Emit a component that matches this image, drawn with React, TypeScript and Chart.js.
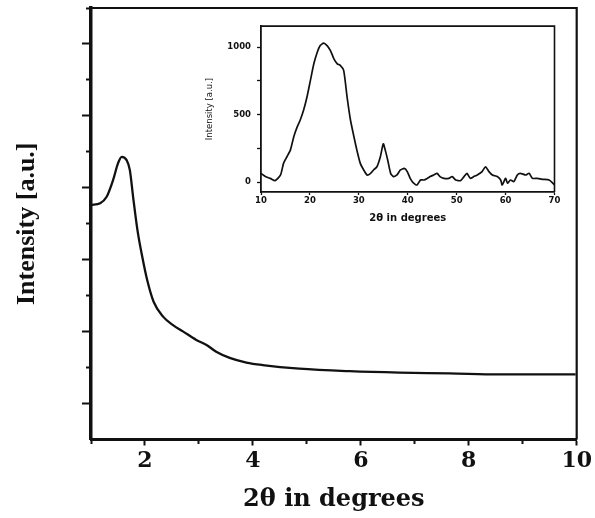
import React, { useEffect, useRef } from "react";
import { Chart, registerables } from "chart.js";

Chart.register(...registerables);

// Main small-angle pattern (2θ in degrees vs intensity, arbitrary units)
const mainTheta = [1.0, 1.17, 1.29, 1.41, 1.5, 1.57, 1.66, 1.72, 1.78, 1.86, 1.95, 2.04, 2.16, 2.34, 2.52, 2.71, 2.95, 3.14, 3.32, 3.57, 3.88, 4.18, 4.86, 5.79, 6.71, 7.64, 8.56, 9.98];
const mainIntensity = [6.52, 6.57, 6.75, 7.22, 7.68, 7.86, 7.77, 7.49, 6.75, 5.83, 5.08, 4.44, 3.83, 3.41, 3.18, 3.0, 2.77, 2.63, 2.44, 2.27, 2.14, 2.07, 1.97, 1.9, 1.86, 1.84, 1.81, 1.81];
const mainXTicks = [1, 2, 3, 4, 5, 6, 7, 8, 9, 10];
const mainXLabels = ["", "2", "", "4", "", "6", "", "8", "", "10"];
const mainYTicks = [1, 2, 3, 4, 5, 6, 7, 8, 9, 10, 11, 12];

// Inset wide-angle pattern
const insetTheta = [10, 10.9, 11.9, 12.9, 14.0, 14.6, 15.3, 16.0, 16.7, 17.4, 18.0, 18.7, 19.4, 20.1, 20.8, 21.5, 22.1, 22.8, 23.5, 24.2, 24.9, 25.6, 26.2, 26.9, 27.6, 28.3, 29.0, 29.6, 30.3, 31.0, 31.7, 32.4, 33.0, 33.7, 34.4, 35.0, 35.4, 35.9, 36.5, 37.1, 37.8, 38.5, 39.3, 39.9, 40.5, 41.2, 41.9, 42.6, 43.3, 44.0, 44.6, 45.3, 46.0, 46.6, 47.4, 48.4, 49.1, 49.8, 50.8, 51.5, 52.1, 52.8, 53.5, 54.2, 55.2, 55.9, 56.6, 57.3, 58.3, 59.0, 59.3, 60.0, 60.4, 61.0, 61.7, 62.4, 63.0, 64.1, 64.8, 65.5, 66.5, 67.5, 68.9, 70];
const insetIntensity = [66, 42, 29, 12, 54, 140, 189, 238, 337, 410, 459, 533, 631, 754, 877, 963, 1012, 1030, 1012, 975, 914, 877, 865, 828, 631, 459, 337, 238, 140, 91, 54, 66, 91, 115, 189, 285, 238, 165, 66, 42, 54, 91, 103, 79, 29, -7, -20, 17, 17, 29, 42, 54, 66, 42, 29, 29, 42, 17, 12, 42, 66, 29, 42, 54, 79, 115, 79, 54, 42, 17, -20, 29, -7, 17, 5, 54, 66, 54, 66, 29, 29, 22, 17, -20];
const insetXTicks = [10, 20, 30, 40, 50, 60, 70];
const insetYTicks = [0, 250, 500, 750, 1000];
const insetYLabels = ["0", "", "500", "", "1000"];

const INK = "#111111";

const framePlugin = (width: number) => ({
  id: "frame",
  afterDraw(chart: any) {
    const { ctx, chartArea } = chart;
    ctx.save();
    ctx.strokeStyle = INK;
    ctx.lineWidth = width;
    ctx.beginPath();
    ctx.moveTo(chartArea.left, chartArea.top);
    ctx.lineTo(chartArea.right, chartArea.top);
    ctx.lineTo(chartArea.right, chartArea.bottom);
    ctx.stroke();
    ctx.restore();
  },
});

export default function App() {
  const mainRef = useRef<HTMLCanvasElement>(null);
  const insetRef = useRef<HTMLCanvasElement>(null);

  useEffect(() => {
    const main = new Chart(mainRef.current!, {
      type: "line",
      data: {
        datasets: [
          {
            data: mainTheta.map((x, i) => ({ x, y: mainIntensity[i] })),
            borderColor: INK,
            borderWidth: 2.3,
            pointRadius: 0,
            cubicInterpolationMode: "monotone",
            fill: false,
          },
        ],
      },
      options: {
        responsive: false,
        animation: false,
        events: [],
        layout: { padding: { top: 8, right: 17, left: 0, bottom: 0 } },
        plugins: { legend: { display: false }, tooltip: { enabled: false } },
        scales: {
          x: {
            type: "linear",
            min: 1,
            max: 10,
            afterFit: (s: any) => {
              s.height = 78.5;
            },
            afterBuildTicks: (s: any) => {
              s.ticks = mainXTicks.map((v) => ({ value: v }));
            },
            grid: {
              drawOnChartArea: false,
              drawTicks: true,
              tickLength: 6,
              tickWidth: 2,
              tickColor: INK,
              tickBorderDash: (ctx: any) => (ctx.tick && ctx.tick.value % 2 === 1 ? [3, 100] : []),
            },
            border: { display: true, color: INK, width: 3 },
            ticks: {
              color: INK,
              padding: 3,
              maxRotation: 0,
              autoSkip: false,
              font: { family: "'DejaVu Serif'", size: 22, weight: "bold" },
              callback: (v: any) => mainXLabels[mainXTicks.indexOf(Number(v))] ?? "",
            },
            title: {
              display: true,
              text: "2θ in degrees",
              color: INK,
              font: { family: "'DejaVu Serif'", size: 24, weight: "bold" },
              padding: { top: 0, bottom: 4 },
            },
          },
          y: {
            type: "linear",
            min: 0,
            max: 12,
            afterFit: (s: any) => {
              s.width = 91;
            },
            afterBuildTicks: (s: any) => {
              s.ticks = mainYTicks.map((v) => ({ value: v }));
            },
            grid: {
              drawOnChartArea: false,
              drawTicks: true,
              tickLength: 9,
              tickWidth: 2,
              tickColor: INK,
              tickBorderDash: (ctx: any) => (ctx.tick && ctx.tick.value % 2 === 0 ? [0, 4, 10, 100] : []),
            },
            border: { display: true, color: INK, width: 3.5 },
            ticks: { display: false },
            title: {
              display: true,
              text: "Intensity [a.u.]",
              color: INK,
              font: { family: "'Liberation Serif'", size: 26, weight: "bold" },
              padding: { top: 12, bottom: 0 },
            },
          },
        },
      },
      plugins: [framePlugin(2.2)],
    } as any);

    const inset = new Chart(insetRef.current!, {
      type: "line",
      data: {
        datasets: [
          {
            data: insetTheta.map((x, i) => ({ x, y: insetIntensity[i] })),
            borderColor: INK,
            borderWidth: 1.7,
            pointRadius: 0,
            tension: 0.2,
            fill: false,
          },
        ],
      },
      options: {
        responsive: false,
        animation: false,
        events: [],
        layout: { padding: { top: 10.5, right: 10.5, left: 0, bottom: 0 } },
        plugins: { legend: { display: false }, tooltip: { enabled: false } },
        scales: {
          x: {
            type: "linear",
            min: 10,
            max: 70,
            afterFit: (s: any) => {
              s.height = 38;
            },
            afterBuildTicks: (s: any) => {
              s.ticks = insetXTicks.map((v) => ({ value: v }));
            },
            grid: { drawOnChartArea: false, drawTicks: true, tickLength: 3, tickWidth: 1.3, tickColor: INK },
            border: { display: true, color: INK, width: 1.8 },
            ticks: {
              color: INK,
              padding: 1,
              maxRotation: 0,
              autoSkip: false,
              font: { family: "'DejaVu Sans'", size: 8.5, weight: "bold" },
            },
            title: {
              display: true,
              text: "2θ in degrees",
              color: INK,
              font: { family: "'DejaVu Sans'", size: 10, weight: "bold" },
              padding: { top: 0, bottom: 5.5 },
            },
          },
          y: {
            type: "linear",
            min: -72,
            max: 1156,
            afterFit: (s: any) => {
              s.width = 66;
            },
            afterBuildTicks: (s: any) => {
              s.ticks = insetYTicks.map((v) => ({ value: v }));
            },
            grid: { drawOnChartArea: false, drawTicks: true, tickLength: 4, tickWidth: 1.3, tickColor: INK },
            border: { display: true, color: INK, width: 1.8 },
            ticks: {
              color: INK,
              padding: 6,
              autoSkip: false,
              font: { family: "'DejaVu Sans'", size: 8.5, weight: "bold" },
              callback: (v: any) => insetYLabels[insetYTicks.indexOf(Number(v))] ?? "",
            },
            title: {
              display: true,
              text: "Intensity [a.u.]",
              color: INK,
              font: { family: "'DejaVu Sans'", size: 8.5 },
              padding: { top: 10, bottom: 0 },
            },
          },
        },
      },
      plugins: [framePlugin(1.6)],
    } as any);

    return () => {
      main.destroy();
      inset.destroy();
    };
  }, []);

  return (
    <div style={{ position: "fixed", left: 0, top: 0, width: 595, height: 518, background: "#fff" }}>
      <canvas ref={mainRef} width={595} height={518} style={{ position: "absolute", left: 0, top: 0, width: 595, height: 518 }} />
      <canvas ref={insetRef} width={370} height={215} style={{ position: "absolute", left: 195, top: 15, width: 370, height: 215 }} />
    </div>
  );
}
